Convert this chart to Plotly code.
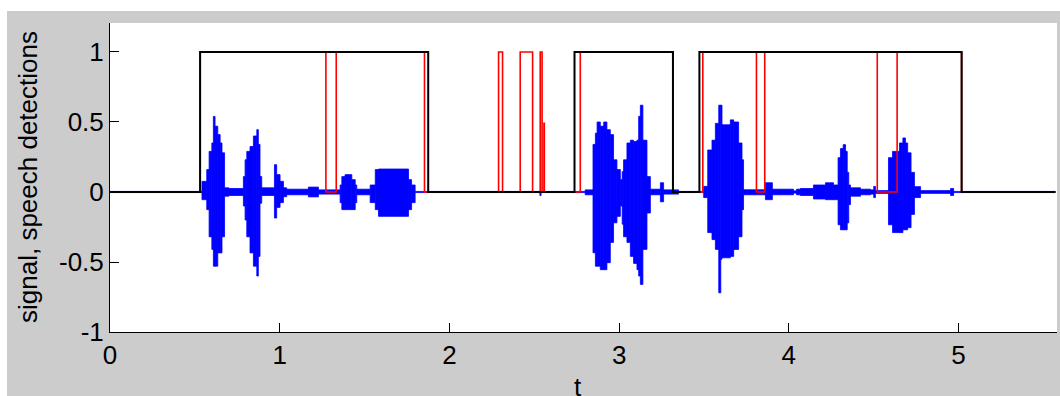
import plotly.graph_objects as go

# ---- data ----
# speech signal envelope (time [s], upper value, lower value)
env_t = [0.000, 0.542, 0.570, 0.584, 0.600, 0.609, 0.619, 0.635, 0.649, 0.660, 0.675, 0.700,
         0.786, 0.796, 0.806, 0.825, 0.845, 0.865, 0.874, 0.884, 0.894, 0.969, 0.982, 1.002,
         1.022, 1.041, 1.169, 1.228, 1.356, 1.366, 1.385, 1.425, 1.445, 1.454, 1.533, 1.563,
         1.582, 1.759, 1.777, 1.798, 2.533, 2.540, 2.800, 2.846, 2.860, 2.870, 2.889, 2.909,
         2.928, 2.948, 2.967, 2.987, 3.007, 3.018, 3.026, 3.046, 3.066, 3.085, 3.105, 3.115,
         3.125, 3.140, 3.164, 3.184, 3.243, 3.262, 3.350, 3.498, 3.522, 3.547, 3.567, 3.587,
         3.599, 3.606, 3.655, 3.675, 3.704, 3.724, 3.733, 3.862, 3.903, 4.027, 4.045, 4.068,
         4.145, 4.216, 4.263, 4.290, 4.304, 4.320, 4.334, 4.344, 4.353, 4.363, 4.422, 4.481,
         4.500, 4.510, 4.587, 4.611, 4.652, 4.672, 4.687, 4.700, 4.720, 4.740, 4.776, 4.953,
         4.971, 5.570]
env_hi = [0.004, 0.076, 0.16, 0.29, 0.35, 0.54, 0.47, 0.41, 0.35, 0.28, 0.03, 0.025,
          0.11, 0.23, 0.29, 0.325, 0.40, 0.445, 0.34, 0.11, 0.03, 0.195, 0.124, 0.076,
          0.03, 0.02, 0.035, 0.015, 0.05, 0.11, 0.124, 0.088, 0.05, 0.02, 0.05, 0.16,
          0.164, 0.088, 0.05, 0.004, 0.004, 0.004, 0.015, 0.34, 0.42, 0.50, 0.47, 0.50,
          0.445, 0.41, 0.23, 0.16, 0.088, 0.145, 0.23, 0.35, 0.37, 0.36, 0.37, 0.54,
          0.62, 0.37, 0.11, 0.02, 0.066, 0.015, 0.004, 0.04, 0.30, 0.37, 0.49, 0.62,
          0.62, 0.48, 0.515, 0.50, 0.35, 0.23, 0.016, 0.066, 0.02, 0.008, 0.02, 0.025,
          0.05, 0.066, 0.05, 0.245, 0.31, 0.338, 0.29, 0.14, 0.05, 0.03, 0.02, 0.015,
          0.04, 0.01, 0.245, 0.29, 0.35, 0.386, 0.35, 0.28, 0.14, 0.038, 0.01, 0.025,
          0.004, 0.004]
env_lo = [-0.004, -0.055, -0.126, -0.32, -0.41, -0.53, -0.53, -0.435, -0.435, -0.32, -0.03, -0.025,
          -0.10, -0.20, -0.32, -0.435, -0.53, -0.60, -0.46, -0.08, -0.025, -0.186, -0.11, -0.076,
          -0.034, -0.02, -0.035, -0.015, -0.076, -0.126, -0.126, -0.126, -0.076, -0.02, -0.076, -0.126,
          -0.174, -0.126, -0.076, -0.004, -0.025, -0.004, -0.02, -0.434, -0.53, -0.53, -0.555, -0.555,
          -0.505, -0.36, -0.22, -0.174, -0.10, -0.23, -0.32, -0.36, -0.46, -0.51, -0.555, -0.60,
          -0.66, -0.41, -0.15, -0.02, -0.07, -0.015, -0.004, -0.04, -0.29, -0.34, -0.41, -0.72,
          -0.48, -0.47, -0.46, -0.41, -0.32, -0.126, -0.02, -0.055, -0.02, -0.008, -0.02, -0.025,
          -0.05, -0.055, -0.055, -0.234, -0.27, -0.27, -0.27, -0.22, -0.09, -0.03, -0.02, -0.015,
          -0.04, -0.01, -0.234, -0.29, -0.29, -0.27, -0.27, -0.255, -0.16, -0.04, -0.01, -0.025,
          -0.004, -0.004]

# detector output (red) : change times and values
vad_t = [0.0, 0.531, 1.272, 1.333, 1.853, 2.2895, 2.313, 2.417, 2.490, 2.535, 2.546,
         2.557, 2.559, 2.771, 3.317, 3.493, 3.809, 3.858, 4.521, 4.638, 5.018, 5.570]
vad_v = [0, 1, 0, 1, 0, 1, 0, 1, 0, 1, 0,
         0.49, 0, 1, 0, 1, 0, 1, 0, 1, 0, 0]

# reference speech segments (black)
ref_t = [0.0, 0.531, 1.875, 2.737, 3.317, 3.473, 5.018, 5.570]
ref_v = [0, 1, 0, 1, 0, 1, 0, 0]

x_ticks = [0, 1, 2, 3, 4, 5]
y_ticks = [-1, -0.5, 0, 0.5, 1]
y_ticktext = ["-1", "-0.5", "0", "0.5", "1"]

FONT = "Liberation Sans, Arial, Helvetica, sans-serif"

# each envelope segment lasts until the next knot
seg_w = [env_t[i + 1] - env_t[i] for i in range(len(env_t) - 1)]
seg_x = env_t[:-1]
seg_base = env_lo[:-1]
seg_h = [env_hi[i] - env_lo[i] for i in range(len(env_t) - 1)]

fig = go.Figure()
fig.add_trace(go.Bar(x=seg_x, y=seg_h, base=seg_base, width=seg_w, offset=0,
                     marker=dict(color="#0000ff", line=dict(color="#0000ff", width=0.8)),
                     name="signal"))
fig.add_trace(go.Scatter(x=vad_t, y=vad_v, mode="lines",
                         line=dict(color="#ff0000", width=1.6, shape="hv", simplify=False),
                         name="detections"))
fig.add_trace(go.Scatter(x=ref_t, y=ref_v, mode="lines",
                         line=dict(color="#000000", width=2, shape="hv", simplify=False),
                         name="reference"))

W, H = 1060, 396
L, R, T, B = 110, 3, 23, 64
pw, ph = W - L - R, H - T - B


def px_x(p):
    return (p - L) / pw


def px_y(p):
    return (H - B - p) / ph


fig.update_layout(
    width=W, height=H,
    margin=dict(l=L, r=R, t=T, b=B, pad=0),
    paper_bgcolor="#cccccc", plot_bgcolor="#ffffff",
    showlegend=False, barmode="overlay",
    font=dict(family=FONT, size=26, color="#000000"),
    xaxis=dict(range=[0, 5.58], tickvals=x_ticks, ticks="inside", ticklen=9, tickwidth=1,
               tickcolor="#000000", showline=True, linecolor="#000000", linewidth=1,
               showgrid=False, zeroline=False, tickfont=dict(size=26, family=FONT)),
    yaxis=dict(range=[-1, 1.207], tickvals=y_ticks, ticktext=y_ticktext, ticks="inside", ticklen=9,
               tickwidth=1, tickcolor="#000000", showline=True, linecolor="#000000", linewidth=1,
               showgrid=False, zeroline=False, tickfont=dict(size=26, family=FONT)),
    shapes=[
        dict(type="rect", xref="paper", yref="paper", x0=px_x(-5), x1=px_x(W + 5),
             y0=px_y(11), y1=px_y(-5), fillcolor="#ffffff", line=dict(width=0), layer="above"),
        dict(type="rect", xref="paper", yref="paper", x0=px_x(-5), x1=px_x(7),
             y0=px_y(H + 5), y1=px_y(-5), fillcolor="#ffffff", line=dict(width=0), layer="above"),
    ],
    annotations=[
        dict(text="signal, speech detections", xref="paper", yref="paper", x=px_x(27.5), y=0.5,
             textangle=-90, showarrow=False, xanchor="center", yanchor="middle",
             font=dict(size=26, family=FONT)),
        dict(text="t", xref="paper", yref="paper", x=px_x(578), y=px_y(370),
             showarrow=False, xanchor="center", yanchor="top", font=dict(size=26, family=FONT)),
    ],
)

fig.write_html("out.html")
